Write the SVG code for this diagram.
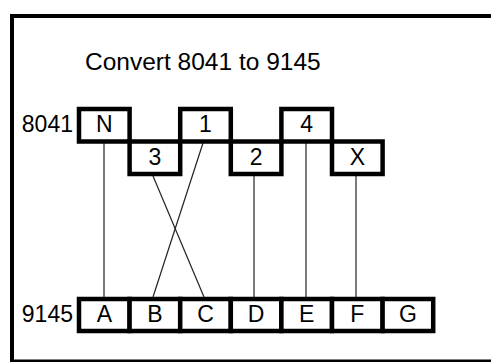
<svg xmlns="http://www.w3.org/2000/svg" width="491" height="362" viewBox="0 0 491 362">
<style>
.box{fill:#fff;stroke:#000;stroke-width:4.5}
.lbl{font-family:"Liberation Sans",Arial,sans-serif;font-size:23px;fill:#000;text-anchor:middle}
.side{font-family:"Liberation Sans",Arial,sans-serif;font-size:23px;fill:#000;text-anchor:end}
.title{font-family:"Liberation Sans",Arial,sans-serif;font-size:24.5px;fill:#000}
.wire{stroke:#222;stroke-width:1.2;fill:none}
</style>
<rect x="0" y="0" width="491" height="362" fill="#fff"/>
<rect id="frame" x="12" y="16" width="500" height="345.5" fill="none" stroke="#000" stroke-width="4"/>
<text class="title" x="85" y="70">Convert 8041 to 9145</text>
<text class="side" x="73" y="132">8041</text>
<text class="side" x="73" y="322">9145</text>
<g id="connectors">
<line class="wire" x1="104" y1="143" x2="104" y2="297"/>
<line class="wire" x1="203" y1="143" x2="153" y2="297"/>
<line class="wire" x1="153" y1="176" x2="204" y2="297"/>
<line class="wire" x1="254" y1="176" x2="254" y2="297"/>
<line class="wire" x1="306" y1="143" x2="306" y2="297"/>
<line class="wire" x1="356" y1="176" x2="356" y2="297"/>
</g>
<g id="top-N"><rect class="box" x="79" y="109" width="50.6" height="32.5"/><text class="lbl" x="104.3" y="132">N</text></g>
<g id="top-3"><rect class="box" x="129.6" y="141.5" width="50.6" height="32.5"/><text class="lbl" x="154.9" y="165">3</text></g>
<g id="top-1"><rect class="box" x="180.2" y="109" width="50.6" height="32.5"/><text class="lbl" x="205.5" y="132">1</text></g>
<g id="top-2"><rect class="box" x="230.8" y="141.5" width="50.6" height="32.5"/><text class="lbl" x="256.1" y="165">2</text></g>
<g id="top-4"><rect class="box" x="281.4" y="109" width="50.6" height="32.5"/><text class="lbl" x="306.7" y="132">4</text></g>
<g id="top-X"><rect class="box" x="332" y="141.5" width="50.6" height="32.5"/><text class="lbl" x="357.3" y="165">X</text></g>
<g id="bot-A"><rect class="box" x="79" y="299" width="50.6" height="32"/><text class="lbl" x="104.3" y="322">A</text></g>
<g id="bot-B"><rect class="box" x="129.6" y="299" width="50.6" height="32"/><text class="lbl" x="154.9" y="322">B</text></g>
<g id="bot-C"><rect class="box" x="180.2" y="299" width="50.6" height="32"/><text class="lbl" x="205.5" y="322">C</text></g>
<g id="bot-D"><rect class="box" x="230.8" y="299" width="50.6" height="32"/><text class="lbl" x="256.1" y="322">D</text></g>
<g id="bot-E"><rect class="box" x="281.4" y="299" width="50.6" height="32"/><text class="lbl" x="306.7" y="322">E</text></g>
<g id="bot-F"><rect class="box" x="332" y="299" width="50.6" height="32"/><text class="lbl" x="357.3" y="322">F</text></g>
<g id="bot-G"><rect class="box" x="382.6" y="299" width="50.6" height="32"/><text class="lbl" x="407.9" y="322">G</text></g>
</svg>
